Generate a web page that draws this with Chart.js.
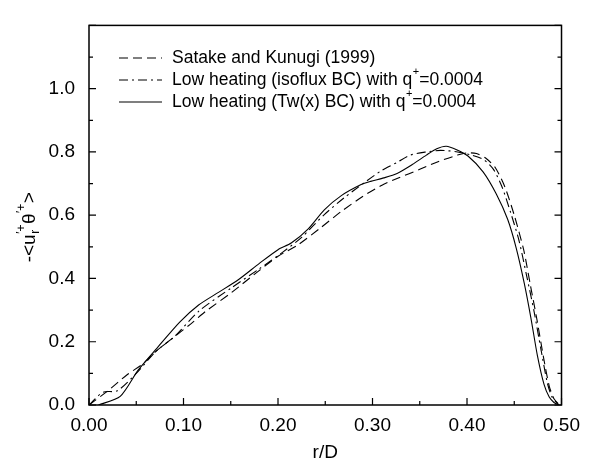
<!DOCTYPE html>
<html>
<head>
<meta charset="utf-8">
<script src="https://cdn.jsdelivr.net/npm/chart.js@4"></script>
<style>
  body { margin: 0; background: #fff; }
  #wrap { width: 589px; height: 465px; }
</style>
</head>
<body>
<div id="wrap"><canvas id="grafico" width="589" height="465"></canvas></div>
<script>
// valores
const satakeR = [0, 0.02, 0.04, 0.057, 0.071, 0.09, 0.11, 0.123, 0.151, 0.18, 0.2, 0.221, 0.245, 0.267, 0.29, 0.31, 0.326, 0.35, 0.37, 0.39, 0.40, 0.41, 0.42, 0.43, 0.44, 0.45, 0.46, 0.467, 0.474, 0.481, 0.487, 0.492, 0.498];
const satakeVal = [0, 0.045, 0.095, 0.13, 0.17, 0.215, 0.262, 0.295, 0.356, 0.425, 0.47, 0.506, 0.56, 0.612, 0.66, 0.695, 0.716, 0.745, 0.77, 0.79, 0.797, 0.795, 0.78, 0.75, 0.69, 0.60, 0.49, 0.38, 0.27, 0.15, 0.06, 0.02, 0];

const isofluxR = [0, 0.012, 0.017, 0.03, 0.05, 0.071, 0.09, 0.116, 0.151, 0.18, 0.204, 0.225, 0.249, 0.27, 0.291, 0.31, 0.326, 0.34, 0.357, 0.372, 0.39, 0.405, 0.418, 0.428, 0.437, 0.446, 0.455, 0.463, 0.471, 0.478, 0.485, 0.49, 0.497];
const isofluxVal = [0, 0.035, 0.042, 0.045, 0.1, 0.17, 0.215, 0.296, 0.371, 0.43, 0.481, 0.53, 0.602, 0.655, 0.702, 0.742, 0.767, 0.79, 0.80, 0.805, 0.8, 0.79, 0.775, 0.745, 0.69, 0.61, 0.52, 0.41, 0.295, 0.18, 0.07, 0.025, 0];

const twR = [0.01, 0.033, 0.052, 0.072, 0.096, 0.116, 0.137, 0.158, 0.18, 0.2, 0.214, 0.232, 0.249, 0.267, 0.288, 0.298, 0.312, 0.326, 0.342, 0.357, 0.368, 0.378, 0.389, 0.401, 0.417, 0.431, 0.443, 0.452, 0.4605, 0.4675, 0.4745, 0.4815, 0.487, 0.492, 0.497];
const twVal = [0, 0.027, 0.11, 0.18, 0.262, 0.316, 0.356, 0.396, 0.447, 0.491, 0.512, 0.557, 0.617, 0.662, 0.697, 0.707, 0.718, 0.732, 0.76, 0.79, 0.81, 0.818, 0.807, 0.787, 0.737, 0.667, 0.587, 0.497, 0.386, 0.277, 0.156, 0.065, 0.025, 0.008, 0];

const seriesLabels = ['Satake and Kunugi (1999)', 'Low heating (isoflux BC) with q⁺=0.0004', 'Low heating (Tw(x) BC) with q⁺=0.0004'];

const xMin = 0, xMax = 0.5, xStep = 0.05;
const yMin = 0, yMax = 1.2, yStep = 0.1;

const FONTE = '"Liberation Sans", Arial, Helvetica, sans-serif';

function pontos(rs, vs) {
    return rs.map((r, i) => ({ x: r, y: vs[i] }));
}

function rotuloX(v) {
    const k = Math.round(v * 100);
    return k % 10 === 0 ? v.toFixed(2) : '';
}
function rotuloY(v) {
    const k = Math.round(v * 10);
    return (k % 2 === 0 && k <= 10) ? v.toFixed(1) : '';
}

// moldura, tiquetes para dentro, legenda e titulo do eixo y
const extras = {
    id: 'extras',
    afterDraw(chart) {
        const ctx = chart.ctx;
        const a = chart.chartArea;
        const sx = chart.scales.x, sy = chart.scales.y;
        ctx.save();
        ctx.strokeStyle = '#000';
        ctx.lineWidth = 1.5;
        ctx.strokeRect(a.left, a.top, a.right - a.left, a.bottom - a.top);

        ctx.lineWidth = 1.2;
        ctx.beginPath();
        sx.ticks.forEach(t => {
            const px = sx.getPixelForValue(t.value);
            const len = rotuloX(t.value) ? 7 : 4;
            ctx.moveTo(px, a.bottom);
            ctx.lineTo(px, a.bottom - len);
        });
        sy.ticks.forEach(t => {
            const py = sy.getPixelForValue(t.value);
            const len = rotuloY(t.value) || Math.round(t.value * 10) === 12 ? 7 : 4;
            ctx.moveTo(a.left, py);
            ctx.lineTo(a.left + len, py);
            ctx.moveTo(a.right, py);
            ctx.lineTo(a.right - len, py);
        });
        ctx.stroke();

        // legenda
        const fs = 17.5;
        chart.data.datasets.forEach((ds, i) => {
            const yy = 58 + i * 22;
            ctx.setLineDash(ds.borderDash || []);
            ctx.lineWidth = 1.1;
            ctx.beginPath();
            ctx.moveTo(119, yy);
            ctx.lineTo(162, yy);
            ctx.stroke();
            ctx.setLineDash([]);
            ctx.fillStyle = '#000';
            ctx.textBaseline = 'middle';
            ctx.textAlign = 'left';
            let x = 172;
            const partes = ds.label.split('⁺');
            partes.forEach((p, j) => {
                ctx.font = fs + 'px ' + FONTE;
                ctx.fillText(p, x, yy);
                x += ctx.measureText(p).width;
                if (j < partes.length - 1) {
                    ctx.font = '11px ' + FONTE;
                    ctx.fillText('+', x + 0.5, yy - 8);
                    x += ctx.measureText('+').width + 0.5;
                }
            });
        });

        // titulo do eixo y: -<u_r'+ θ'+>
        ctx.translate(35, 227);
        ctx.rotate(-Math.PI / 2);
        ctx.textBaseline = 'alphabetic';
        ctx.textAlign = 'left';
        const grande = '19px ' + FONTE, pequeno = '12px ' + FONTE;
        const pedacos = [
            { t: '-<u', f: grande, dy: 0 },
            { t: 'r', f: pequeno, dy: 4, sobe: '′+' },
            { t: 'θ', f: grande, dy: 0 },
            { t: '', f: pequeno, dy: 0, sobe: '′+' },
            { t: '>', f: grande, dy: 0 }
        ];
        ctx.font = grande;
        let total = 0;
        pedacos.forEach(p => {
            ctx.font = p.f;
            let w = ctx.measureText(p.t).width;
            if (p.sobe) w = Math.max(w, ctx.measureText(p.sobe).width);
            p.w = w;
            total += w + 0.5;
        });
        let x = -total / 2;
        pedacos.forEach(p => {
            ctx.font = p.f;
            if (p.t) ctx.fillText(p.t, x, p.dy);
            if (p.sobe) ctx.fillText(p.sobe, x, -10);
            x += p.w + 0.5;
        });
        ctx.restore();
    }
};

const ctx = document.getElementById('grafico').getContext('2d');

new Chart(ctx, {
    type: 'line',
    data: {
        datasets: [
            { label: seriesLabels[0], data: pontos(satakeR, satakeVal), borderDash: [9, 5] },
            { label: seriesLabels[1], data: pontos(isofluxR, isofluxVal), borderDash: [9, 4, 2, 4] },
            { label: seriesLabels[2], data: pontos(twR, twVal), borderDash: [] }
        ]
    },
    options: {
        responsive: false,
        animation: false,
        layout: { padding: { top: 7, right: 23, left: 0, bottom: 0 } },
        elements: {
            line: { borderColor: '#000', borderWidth: 1.1, tension: 0.25, fill: false },
            point: { radius: 0 }
        },
        plugins: {
            legend: { display: false },
            tooltip: { enabled: false }
        },
        scales: {
            x: {
                type: 'linear',
                min: xMin,
                max: xMax,
                grid: { display: false, drawTicks: false },
                border: { display: false },
                ticks: {
                    stepSize: xStep,
                    autoSkip: false,
                    maxRotation: 0,
                    padding: 9,
                    color: '#000',
                    font: { family: FONTE, size: 19 },
                    callback: v => rotuloX(v)
                },
                title: {
                    display: true,
                    text: 'r/D',
                    color: '#000',
                    font: { family: FONTE, size: 19 },
                    padding: { top: 0, bottom: 1 }
                },
                afterFit: s => { s.height = 60; }
            },
            y: {
                type: 'linear',
                min: yMin,
                max: yMax,
                grid: { display: false, drawTicks: false },
                border: { display: false },
                ticks: {
                    stepSize: yStep,
                    autoSkip: false,
                    padding: 14,
                    color: '#000',
                    font: { family: FONTE, size: 19 },
                    callback: v => rotuloY(v)
                },
                afterFit: s => { s.width = 89; }
            }
        }
    },
    plugins: [extras]
});
</script>
</body>
</html>
